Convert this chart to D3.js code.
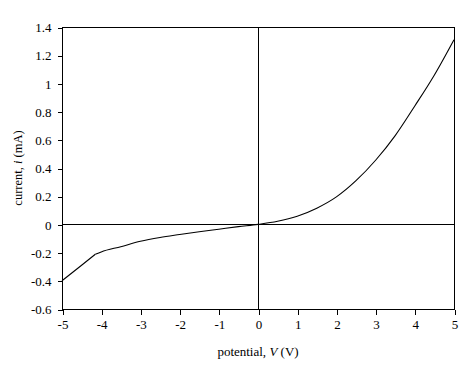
<!DOCTYPE html>
<html><head><meta charset="utf-8">
<script src="https://cdn.jsdelivr.net/npm/d3@7"></script>
<style>body{margin:0;background:#fff}svg{display:block}text{font-family:"Liberation Serif","Times New Roman",serif;fill:#000}</style>
</head><body>
<script>
const potential = [-5, -4.5, -4.15, -4, -3.5, -3, -2.5, -2, -1.5, -1, -0.5, 0, 0.5, 1, 1.5, 2, 2.5, 3, 3.5, 4, 4.5, 5];
const current = [-0.40, -0.29, -0.212, -0.195, -0.158, -0.12, -0.093, -0.072, -0.052, -0.034, -0.016, 0, 0.022, 0.058, 0.115, 0.195, 0.31, 0.455, 0.63, 0.84, 1.06, 1.31];
const kinkIndex = 2; // straight segment up to V = -4.15, smooth afterwards
const xTicks = [-5, -4, -3, -2, -1, 0, 1, 2, 3, 4, 5];
const yTicks = [-0.6, -0.4, -0.2, 0, 0.2, 0.4, 0.6, 0.8, 1, 1.2, 1.4];

const W = 475, H = 368;
const m = {l: 62, t: 27, r: 454, b: 309};
const svg = d3.select("body").append("svg").attr("width", W).attr("height", H);
const x = d3.scaleLinear().domain([-5, 5]).range([m.l, m.r]);
const y = d3.scaleLinear().domain([-0.6, 1.4]).range([m.b, m.t]);

svg.append("rect").attr("x", m.l + 0.5).attr("y", m.t + 0.5)
  .attr("width", m.r - m.l).attr("height", m.b - m.t)
  .attr("fill", "none").attr("stroke", "#000").attr("shape-rendering", "crispEdges");

svg.append("line").attr("x1", m.l).attr("x2", m.r).attr("y1", Math.round(y(0)) + 0.5).attr("y2", Math.round(y(0)) + 0.5)
  .attr("stroke", "#000").attr("shape-rendering", "crispEdges");
svg.append("line").attr("x1", Math.round(x(0)) + 0.5).attr("x2", Math.round(x(0)) + 0.5).attr("y1", m.t).attr("y2", m.b)
  .attr("stroke", "#000").attr("shape-rendering", "crispEdges");

const fmt = d => String(+(+d).toFixed(1));
const xAxis = svg.append("g").attr("transform", `translate(0.5,${m.b + 0.5})`)
  .call(d3.axisBottom(x).tickValues(xTicks).tickSize(5).tickPadding(5).tickFormat(fmt));
const yAxis = svg.append("g").attr("transform", `translate(${m.l + 0.5},0.5)`)
  .call(d3.axisLeft(y).tickValues(yTicks).tickSize(5).tickPadding(6).tickFormat(fmt));
[xAxis, yAxis].forEach(g => {
  g.select(".domain").remove();
  g.selectAll("line").attr("stroke", "#000").attr("shape-rendering", "crispEdges");
  g.selectAll("text").attr("font-family", "Liberation Serif").attr("font-size", 13).attr("fill", "#000");
});

const pts = potential.map((v, i) => [v, current[i]]);
const lineLin = d3.line().x(d => x(d[0])).y(d => y(d[1])).curve(d3.curveLinear);
const lineSmooth = d3.line().x(d => x(d[0])).y(d => y(d[1])).curve(d3.curveMonotoneX);
const g = svg.append("g").attr("fill", "none").attr("stroke", "#000").attr("stroke-width", 1.1).attr("stroke-linejoin", "round");
g.append("path").attr("d", lineLin(pts.slice(0, kinkIndex + 1)));
g.append("path").attr("d", lineSmooth(pts.slice(kinkIndex)));

const xt = svg.append("text").attr("x", x(0)).attr("y", 356).attr("text-anchor", "middle").attr("font-size", 13);
xt.append("tspan").text("potential, ");
xt.append("tspan").attr("font-style", "italic").text("V");
xt.append("tspan").text(" (V)");

const yt = svg.append("text").attr("transform", `translate(22,${(m.t + m.b) / 2}) rotate(-90)`)
  .attr("text-anchor", "middle").attr("font-size", 12.5);
yt.append("tspan").text("current, ");
yt.append("tspan").attr("font-style", "italic").text("i");
yt.append("tspan").text("  (mA)");
</script>
</body></html>
